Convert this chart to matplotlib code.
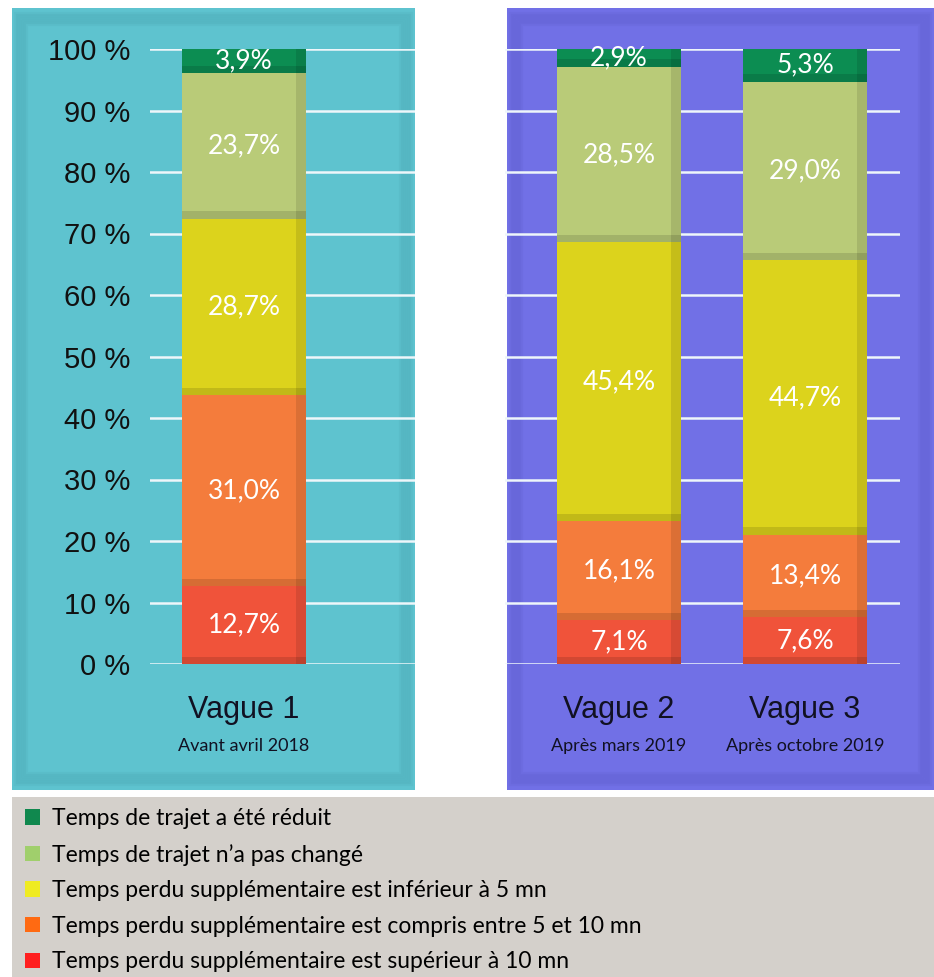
import numpy as np
import matplotlib.pyplot as plt
from matplotlib.patches import Rectangle, Patch

# data (bottom -> top)
series = ["Temps perdu supplémentaire est supérieur à 10 mn",
          "Temps perdu supplémentaire est compris entre 5 et 10 mn",
          "Temps perdu supplémentaire est inférieur à 5 mn",
          "Temps de trajet n\u2019a pas changé",
          "Temps de trajet a été réduit"]
vague1 = [12.7, 31.0, 28.7, 23.7, 3.9]
vague2 = [7.1, 16.1, 45.4, 28.5, 2.9]
vague3 = [7.6, 13.4, 44.7, 29.0, 5.3]
waves = ["Vague 1", "Vague 2", "Vague 3"]
periods = ["Avant avril 2018", "Après mars 2019", "Après octobre 2019"]
yticks = [0, 10, 20, 30, 40, 50, 60, 70, 80, 90, 100]

bar_colors = ["#f0533a", "#f47c3c", "#dcd31c", "#b9cb78", "#0c8d52"]
legend_colors = ["#ff1f1f", "#ff6a12", "#efeb22", "#a0cf6c", "#10884e"]

W, H = 934, 977
fig = plt.figure(figsize=(W / 100, H / 100), dpi=100)
fig.patch.set_facecolor("white")

def px(x0, y0, x1, y1):
    # pixel box (top-left origin) -> figure fraction rect
    return [x0 / W, 1 - y1 / H, (x1 - x0) / W, (y1 - y0) / H]

def panel(x0, y0, x1, y1, color, shade):
    r = px(x0, y0, x1, y1)
    fig.patches.append(Rectangle((r[0], r[1]), r[2], r[3], transform=fig.transFigure,
                                 facecolor=color, edgecolor="none", zorder=-3))
    # soft shading along the edges
    for i in range(6):
        rr = px(x0 + 4 + i * 2, y0 + 6 + i * 2, x1 - 4 - i * 2, y1 - 6 - i * 2)
        fig.patches.append(Rectangle((rr[0], rr[1]), rr[2], rr[3], transform=fig.transFigure,
                                     facecolor="none", edgecolor=shade, alpha=0.05, lw=3, zorder=-2))

panel(12, 8, 415, 790, "#5ec3cf", "#1d5a66")
panel(507, 8, 934, 790, "#7170e6", "#2a2a80")

# legend box
r = px(12, 797, 934, 977)
fig.patches.append(Rectangle((r[0], r[1]), r[2], r[3], transform=fig.transFigure,
                             facecolor="#d4d0cb", edgecolor="none", zorder=-3))

def draw(ax, xs, data, width):
    bottoms = np.zeros(len(xs))
    for k in range(len(series)):
        vals = np.array([d[k] for d in data])
        ax.bar(xs, vals, width, bottom=bottoms, color=bar_colors[k], zorder=3)
        # darker shading at the right side and bottom of each block
        ax.bar(np.array(xs) + width * 0.46, vals, width * 0.08, bottom=bottoms,
               color="black", alpha=0.10, zorder=3.5)
        ax.bar(xs, np.minimum(vals, 1.2), width, bottom=bottoms,
               color="black", alpha=0.12, zorder=3.5)
        for x, b, v in zip(xs, bottoms, vals):
            ax.text(x, b + v / 2, f"{v:.1f}%".replace(".", ","), ha="center", va="center",
                    color="white", fontsize=19, family="Lato", zorder=4)
        bottoms += vals
    ax.set_ylim(0, 100)
    ax.set_yticks(yticks)
    ax.yaxis.grid(True, color="#eef6fa", lw=1.8, zorder=0)
    ax.set_axisbelow(True)
    ax.patch.set_alpha(0)
    for s in ax.spines.values():
        s.set_visible(False)
    ax.set_xticks([])
    ax.tick_params(axis="y", length=0, pad=14)

# left axes
ax1 = fig.add_axes(px(150, 49, 415, 664))
draw(ax1, [0], [vague1], 1.0)
ax1.set_xlim(-0.764, 1.39)
ax1.set_yticklabels([f"{t} %" for t in yticks], fontsize=21, family="Liberation Sans",
                    color="#111111")

# right axes
ax2 = fig.add_axes(px(505, 49, 900, 664))
draw(ax2, [1, 2], [vague2, vague3], 0.662)
ax2.set_xlim(0.387, 2.511)
ax2.set_yticklabels([])

for ax, xs, names, subs in [(ax1, [0], waves[:1], periods[:1]),
                            (ax2, [1, 2], waves[1:], periods[1:])]:
    tr = ax.get_xaxis_transform()
    for x, n, s in zip(xs, names, subs):
        ax.text(x, -0.074, n, transform=tr, ha="center", va="center",
                fontsize=22, family="Liberation Sans", color="#111122")
        ax.text(x, -0.133, s, transform=tr, ha="center", va="center",
                fontsize=13, family="Lato", color="#111122")

handles = [Patch(facecolor=c, edgecolor="none") for c in legend_colors[::-1]]
fig.legend(handles, series[::-1], loc="upper left", bbox_to_anchor=(16 / W, 1 - 799 / H),
           frameon=False, prop={"family": "Lato", "size": 16.5},
           handlelength=0.65, handleheight=0.65, handletextpad=0.5,
           labelspacing=0.635, borderaxespad=0)

fig.savefig("out.png", dpi=100)
